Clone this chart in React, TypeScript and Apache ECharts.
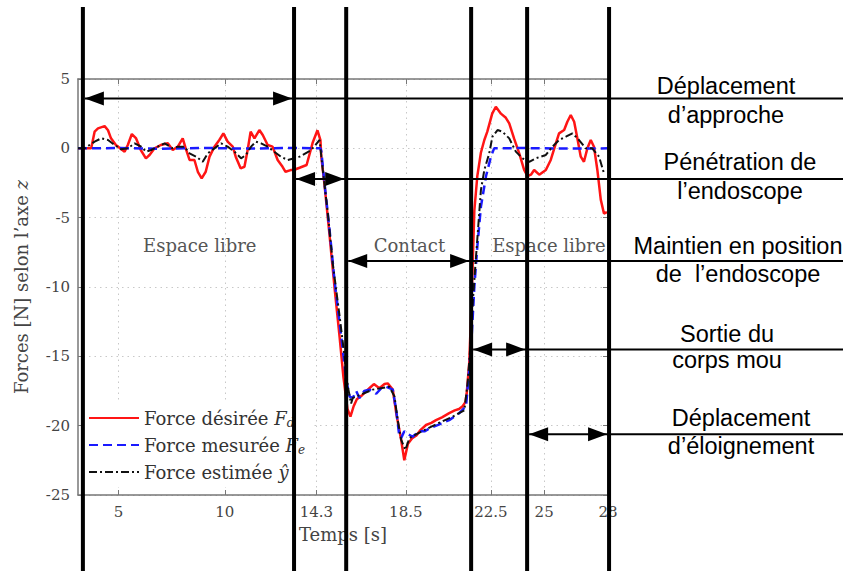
import React, { useEffect, useRef } from "react";
import * as echarts from "echarts";

// ---------- data ----------
const xMin = 3.1;
const xMax = 28;
const xTickValues = [5, 10, 14.3, 18.5, 22.5, 25, 28];
const yMin = -25;
const yMax = 5;
const yStep = 5;

const seriesNames = ["Force désirée Fd", "Force mesurée Fe", "Force estimée y"];

const desiredForce: [number, number][] = [
  [3.1, 0], [3.72, 0], [3.88, 1.2], [4.04, 1.44], [4.35, 1.6], [4.51, 1.3], [4.65, 0.72], [4.88, 0.24],
  [5.29, -0.24], [5.44, 0.24], [5.63, 1.03], [5.82, 0.74], [6.05, -0.12], [6.29, -0.72], [6.46, -0.48],
  [6.7, 0], [6.99, 0.24], [7.32, 0.36], [7.55, -0.12], [7.79, 0.12], [8.02, 0.72], [8.16, 0], [8.34, -0.84],
  [8.57, -0.84], [8.73, -1.69], [8.91, -2.16], [9.1, -1.69], [9.28, -0.6], [9.51, 0.12], [9.74, 0.6],
  [9.93, 1.08], [10.13, 0.48], [10.37, 0.12], [10.51, -0.6], [10.74, -1.44], [10.92, -1.33], [11.07, -0.12],
  [11.21, 1.2], [11.39, 0.72], [11.62, 1.32], [11.78, 0.96], [12.01, 0.24], [12.24, 0.12], [12.48, -0.84],
  [12.71, -1.33], [12.85, -1.69], [13.09, -1.57], [13.23, -1.56], [13.51, -1.4], [13.84, -1.2], [14.12, 0.38],
  [14.35, 1.3], [14.49, 0.6], [14.53, -0.6], [14.68, -2.6], [14.92, -6.3], [15.15, -10], [15.39, -13.6],
  [15.57, -16.5], [15.76, -18.8], [15.9, -19.35], [16.05, -18.6], [16.2, -18.1], [16.45, -17.8], [16.79, -17.3],
  [17.0, -17.0], [17.26, -17.3], [17.5, -17.0], [17.65, -16.95], [17.89, -17.4], [18.05, -19.1], [18.28, -21.0],
  [18.43, -22.5], [18.6, -21.3], [18.8, -20.9], [19.0, -20.7], [19.2, -20.3], [19.45, -19.95], [19.7, -19.8],
  [19.92, -19.6], [20.2, -19.4], [20.54, -19.1], [20.8, -18.9], [21.0, -18.8], [21.17, -18.6], [21.3, -18.3],
  [21.36, -17.7], [21.48, -15.5], [21.58, -11.5], [21.65, -8], [21.72, -4.5], [21.86, -2], [22.03, -0.3],
  [22.19, 0.6], [22.33, 1.2], [22.56, 2.5], [22.73, 3.0], [22.97, 2.5], [23.2, 2.2], [23.36, 1.8], [23.59, 0.7],
  [23.83, -0.36], [24.06, -1.56], [24.22, -2.0], [24.38, -1.9], [24.53, -1.56], [24.77, -1.9], [25.08, -1.56],
  [25.31, -0.84], [25.55, 0.36], [25.7, 1.08], [25.94, 1.32], [26.09, 1.92], [26.25, 2.4], [26.41, 1.92],
  [26.56, 0.72], [26.72, -0.6], [26.87, -0.97], [27.03, 0], [27.19, 0.6], [27.34, 0.12], [27.5, -1.56],
  [27.66, -3.7], [27.81, -4.7], [27.95, -4.6],
];

const measuredForce: [number, number][] = [
  [3.1, 0], [5.0, 0.02], [7.0, -0.03], [9.0, 0.03], [11.0, -0.02], [13.0, 0.03], [14.49, 0],
  [14.53, -0.2], [14.68, -2.5], [14.92, -5.9], [15.15, -9.5], [15.47, -13.6], [15.7, -16.7], [15.86, -17.9],
  [16.01, -18.0], [16.17, -17.5], [16.32, -18.0], [16.55, -17.5], [16.79, -17.4], [17.11, -17.7], [17.35, -17.3],
  [17.58, -17.2], [17.89, -17.4], [18.05, -18.9], [18.2, -20.8], [18.28, -20.9], [18.43, -20.4], [18.59, -20.6],
  [18.82, -20.8], [19.14, -20.4], [19.4, -20.4], [19.61, -20.2], [20.08, -19.9], [20.54, -19.6], [21.01, -19.1],
  [21.33, -18.6], [21.45, -16.5], [21.58, -14], [21.72, -10], [21.86, -7.1], [22.03, -4.2], [22.27, -2],
  [22.5, -0.6], [22.65, 0], [24.0, 0.02], [26.0, -0.02], [28.0, 0],
];

const estimatedForce: [number, number][] = [
  [3.1, 0], [3.41, 0], [3.88, 0.48], [4.19, 0.72], [4.51, 0.6], [4.82, 0.24], [5.13, -0.07], [5.44, 0],
  [5.76, 0.36], [6.07, 0.12], [6.3, -0.24], [6.54, -0.12], [6.85, 0.12], [7.17, 0.36], [7.55, 0], [7.79, 0.12],
  [8.1, 0.12], [8.34, -0.36], [8.65, -0.6], [8.96, -0.97], [9.2, -0.36], [9.51, 0], [9.82, 0.36], [10.13, 0.12],
  [10.45, -0.24], [10.76, -0.72], [10.99, -0.48], [11.23, 0.12], [11.46, 0.48], [11.7, 0.36], [12.01, 0.12],
  [12.32, -0.24], [12.63, -0.6], [12.95, -0.84], [13.26, -0.72], [13.51, -0.6], [14.06, -0.12], [14.45, 0.6],
  [14.6, -1.56], [14.84, -4.7], [15.07, -8.3], [15.39, -12.1], [15.62, -15], [15.78, -17.2], [15.93, -18.4],
  [16.01, -18.0], [16.17, -17.9], [16.32, -17.8], [16.95, -17.4], [17.73, -17.2], [17.97, -17.9], [18.12, -19.6],
  [18.28, -21.0], [18.48, -21.75], [18.67, -20.9], [19.14, -20.5], [19.92, -19.9], [20.7, -19.35], [21.25, -18.9],
  [21.4, -17.0], [21.5, -15], [21.65, -11], [21.8, -7.8], [22.03, -3.0], [22.19, -1.56], [22.42, -0.36],
  [22.57, 0.84], [22.81, 1.32], [23.04, 1.2], [23.36, 0.72], [23.67, -0.24], [23.98, -0.72], [24.3, -0.97],
  [24.61, -0.72], [25.08, -0.48], [25.39, 0.12], [25.7, 0.6], [26.02, 0.84], [26.33, 1.08], [26.64, 0.6],
  [26.95, 0], [27.26, 0], [27.58, -0.6], [27.81, -1.8],
];

// phase annotations (time boundaries, arrow force levels, labels)
const phaseBounds = [3.33, 13.25, 15.7, 21.57, 24.2, 28.05];
const phaseArrowLevels = [3.59, -2.21, -8.13, -14.5, -20.62];
const phaseLabels = [
  ["Déplacement", "d’approche"],
  ["Pénétration de", "l’endoscope"],
  ["Maintien en position", "de  l’endoscope"],
  ["Sortie du", "corps mou"],
  ["Déplacement", "d’éloignement"],
];
const regionTexts = ["Espace libre", "Contact", "Espace libre"];
const regionTimes = [8.82, 18.67, 22.56];
const regionForces = [-7, -7, -7];

// ---------- layout (pixels) ----------
const phaseTextX = [726, 740, 738, 727, 741];
const phaseTextY = [
  [86, 115],
  [162, 191],
  [246, 274],
  [334, 360],
  [418, 446],
];
const vlineTop = 7;
const vlineBottom = 571;
const lineEndX = 843;

const serif = "DejaVu Serif";
const sans = "Liberation Sans";

export default function App() {
  const ref = useRef<HTMLDivElement>(null);

  useEffect(() => {
    if (!ref.current) return;
    const chart = echarts.init(ref.current, null, { renderer: "svg" });

    const gridLine = { show: true, lineStyle: { color: "#c8c8c8", type: [1.5, 4] as any, width: 1 } };
    const axisLine = { show: true, onZero: false, lineStyle: { color: "#777", width: 1.5 } };

    const option: any = {
      animation: false,
      backgroundColor: "#fff",
      grid: { left: 78, right: 238, top: 79, bottom: 76, containLabel: false },
      xAxis: [
        {
          type: "value",
          min: xMin,
          max: xMax,
          position: "bottom",
          axisLine,
          axisTick: { show: true, inside: true, length: 5, customValues: xTickValues, lineStyle: { color: "#777" } },
          axisLabel: {
            customValues: xTickValues,
            formatter: (v: number) => String(v),
            color: "#444",
            fontFamily: serif,
            fontSize: 15,
            margin: 9,
          },
          splitLine: gridLine,
          name: "Temps [s]",
          nameLocation: "middle",
          nameGap: 30,
          nameTextStyle: { color: "#444", fontFamily: serif, fontSize: 18 },
        },
        {
          type: "value",
          min: xMin,
          max: xMax,
          position: "top",
          axisLine,
          axisTick: { show: true, inside: true, length: 5, customValues: xTickValues, lineStyle: { color: "#777" } },
          axisLabel: { show: false },
          splitLine: { show: false },
        },
      ],
      yAxis: [
        {
          type: "value",
          min: yMin,
          max: yMax,
          interval: yStep,
          axisLine,
          axisTick: { show: true, inside: true, length: 5, lineStyle: { color: "#777" } },
          axisLabel: { color: "#444", fontFamily: serif, fontSize: 15, margin: 8 },
          splitLine: gridLine,
          name: "{n|Forces [N] selon l’axe }{i|z}",
          nameLocation: "middle",
          nameGap: 48,
          nameTextStyle: {
            color: "#444",
            fontFamily: serif,
            fontSize: 18,
            rich: {
              n: { color: "#444", fontFamily: serif, fontSize: 18 },
              i: { color: "#444", fontFamily: serif, fontSize: 18, fontStyle: "italic" },
            },
          },
        },
        {
          type: "value",
          min: yMin,
          max: yMax,
          interval: yStep,
          position: "right",
          axisLine,
          axisTick: { show: true, inside: true, length: 5, lineStyle: { color: "#777" } },
          axisLabel: { show: false },
          splitLine: { show: false },
        },
      ],
      legend: {
        orient: "vertical",
        left: 84,
        top: 403,
        itemWidth: 50,
        itemHeight: 14,
        itemGap: 5,
        padding: [4, 6, 4, 4],
        backgroundColor: "#fff",
        data: seriesNames,
        itemStyle: { opacity: 0, borderWidth: 0 },
        formatter: (name: string) => {
          if (name === seriesNames[0]) return "{t|Force désirée }{i|F}{s|d}";
          if (name === seriesNames[1]) return "{t|Force mesurée }{i|F}{s|e}";
          return "{t|Force estimée }{i|ŷ}";
        },
        textStyle: {
          color: "#333",
          fontFamily: serif,
          fontSize: 18,
          lineHeight: 22,
          rich: {
            t: { color: "#333", fontFamily: serif, fontSize: 18, lineHeight: 22 },
            i: { color: "#333", fontFamily: serif, fontSize: 18, fontStyle: "italic", lineHeight: 22 },
            s: { color: "#333", fontFamily: serif, fontSize: 12, fontStyle: "italic", padding: [9, 0, 0, 0], lineHeight: 22 },
          },
        },
      },
      series: [
        {
          name: seriesNames[0],
          type: "line",
          data: desiredForce,
          symbol: "none",
          showSymbol: false,
          lineStyle: { color: "#ff1515", width: 2.5 },
          itemStyle: { color: "#ff1515" },
          z: 2,
        },
        {
          name: seriesNames[1],
          type: "line",
          data: measuredForce,
          symbol: "none",
          showSymbol: false,
          lineStyle: { color: "#1a1aff", width: 2.5, type: [9, 5] },
          itemStyle: { color: "#1a1aff" },
          z: 3,
        },
        {
          name: seriesNames[2],
          type: "line",
          data: estimatedForce,
          symbol: "none",
          showSymbol: false,
          lineStyle: { color: "#111", width: 2, type: [8, 3, 2, 3] },
          itemStyle: { color: "#111" },
          z: 4,
        },
      ],
    };

    chart.setOption(option);

    const toPx = (t: number, f: number) => chart.convertToPixel({ seriesIndex: 0 }, [t, f]) as number[];

    const graphics: any[] = [];
    // region labels inside the plot
    regionTexts.forEach((txt, i) => {
      const p = toPx(regionTimes[i], regionForces[i]);
      graphics.push({
        type: "text",
        x: p[0],
        y: p[1],
        z: 5,
        style: {
          text: txt,
          fill: "#555",
          fontFamily: serif,
          fontSize: 18,
          align: i === 2 ? "left" : "center",
          verticalAlign: "middle",
        },
      });
    });
    // vertical phase boundaries
    phaseBounds.forEach((t) => {
      const x = toPx(t, 0)[0];
      graphics.push({
        type: "line",
        z: 20,
        shape: { x1: x, y1: vlineTop, x2: x, y2: vlineBottom },
        style: { stroke: "#000", lineWidth: 4 },
      });
    });
    // arrows and labels
    phaseArrowLevels.forEach((lvl, i) => {
      const xL = toPx(phaseBounds[i], lvl)[0] + 2;
      const xR = toPx(phaseBounds[i + 1], lvl)[0] - 2;
      const y = toPx(phaseBounds[i], lvl)[1];
      const hl = 19;
      const hw = 7;
      graphics.push({
        type: "line",
        z: 21,
        shape: { x1: xL, y1: y, x2: lineEndX, y2: y },
        style: { stroke: "#000", lineWidth: 2 },
      });
      graphics.push({
        type: "polygon",
        z: 22,
        shape: { points: [[xL, y], [xL + hl, y - hw], [xL + hl, y + hw]] },
        style: { fill: "#000" },
      });
      graphics.push({
        type: "polygon",
        z: 22,
        shape: { points: [[xR, y], [xR - hl, y - hw], [xR - hl, y + hw]] },
        style: { fill: "#000" },
      });
      phaseLabels[i].forEach((line, j) => {
        graphics.push({
          type: "text",
          z: 22,
          x: phaseTextX[i],
          y: phaseTextY[i][j],
          style: {
            text: line,
            fill: "#000",
            fontFamily: sans,
            fontSize: 23.5,
            align: "center",
            verticalAlign: "middle",
          },
        });
      });
    });

    chart.setOption({ graphic: graphics });

    return () => chart.dispose();
  }, []);

  return <div ref={ref} style={{ width: 846, height: 571, position: "absolute", left: 0, top: 0 }} />;
}
